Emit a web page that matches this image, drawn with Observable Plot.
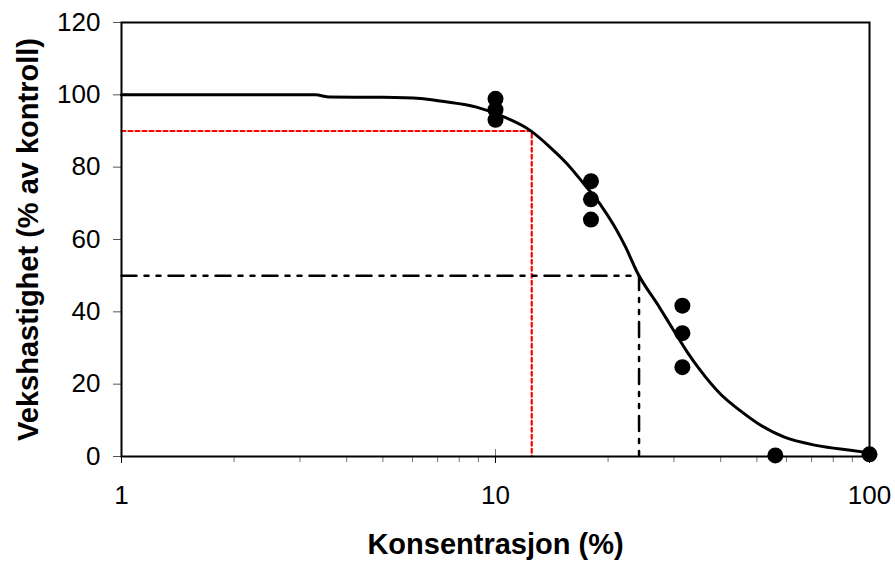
<!DOCTYPE html>
<html>
<head>
<meta charset="utf-8">
<script src="https://cdn.jsdelivr.net/npm/d3@7"></script>
<script src="https://cdn.jsdelivr.net/npm/@observablehq/plot@0.6"></script>
<style>
  html, body { margin: 0; padding: 0; background: #fff; }
  #chart { width: 895px; height: 566px; }
</style>
</head>
<body>
<div id="chart"></div>
<script>
// Fitted dose-response curve
const curveConc = [1, 3.3, 3.6, 5.0, 6.3, 7.2, 8.9, 10.3, 12.4, 14.0, 15.55, 17.2, 19.1, 20.7, 21.6, 22.3, 23.9, 27.3, 29.9, 32.6, 35.3, 40.0, 45.2, 50.2, 59, 72.6, 89, 100];
const curveGrowth = [100, 100, 99.4, 99.3, 99, 98.2, 96.6, 94.3, 90.1, 85.5, 80.9, 75.5, 69.6, 64.0, 60.6, 57.8, 51.0, 41.6, 35.0, 28.8, 23.8, 17.2, 12.6, 9.2, 5.4, 3.0, 1.7, 1.0];

// Observed replicates
const obsConc = [10, 10, 10, 18, 18, 18, 31.6, 31.6, 31.6, 56, 100];
const obsGrowth = [98.9, 95.9, 93.1, 76.1, 71.1, 65.5, 41.7, 34.1, 24.7, 0.3, 0.6];

// Effect concentrations (EC10 red, EC50 black)
const ecLevels = [90, 50];
const ecConc = [12.5, 24.2];

// Axis ticks
const xMajorTicks = [1, 10, 100];
const xMinorTicks = [2, 3, 4, 5, 6, 7, 8, 9, 20, 30, 40, 50, 60, 70, 80, 90];
const yTicks = [0, 20, 40, 60, 80, 100, 120];
const xTitle = "Konsentrasjon (%)";
const yTitle = "Vekshastighet (% av kontroll)";

const xDomain = [1, 100];
const yDomain = [0, 120];

const curve = curveConc.map((c, i) => ({x: c, y: curveGrowth[i]}));
const obs = obsConc.map((c, i) => ({x: c, y: obsGrowth[i]}));
const ecPath = (k) => [
  {x: xDomain[0], y: ecLevels[k]},
  {x: ecConc[k], y: ecLevels[k]},
  {x: ecConc[k], y: yDomain[0]}
];

const chart = Plot.plot({
  width: 895,
  height: 566,
  marginLeft: 121,
  marginRight: 26,
  marginTop: 22,
  marginBottom: 110,
  style: {fontFamily: "'Liberation Sans', Arial, sans-serif", fontSize: "26px", background: "#fff", color: "#000", overflow: "visible"},
  x: {type: "log", domain: xDomain, label: null},
  y: {domain: yDomain, label: null},
  marks: [
    Plot.axisY({ticks: yTicks, tickSize: 8, tickPadding: 13, stroke: "#555", fill: "#000", fontSize: 26, label: null}),
    Plot.axisX({ticks: xMinorTicks, tickSize: 6, stroke: "#777", tickFormat: () => "", label: null}),
    Plot.axisX({ticks: xMajorTicks, tickSize: -7, stroke: "#777", tickFormat: () => "", label: null}),
    Plot.axisX({ticks: xMajorTicks, tickSize: 7, tickPadding: 22, stroke: "#000", fill: "#000", fontSize: 26, tickFormat: d => String(d), label: null}),
    Plot.line(ecPath(0), {x: "x", y: "y", stroke: "#ff0000", strokeWidth: 2.2, strokeDasharray: "4,3"}),
    Plot.line(ecPath(1), {x: "x", y: "y", stroke: "#000", strokeWidth: 2.5, strokeDasharray: "15,8,4,8,4,8"}),
    Plot.line(curve, {x: "x", y: "y", stroke: "#000", strokeWidth: 3, curve: "monotone-x"}),
    Plot.dot(obs, {x: "x", y: "y", r: 8, fill: "#000", stroke: "none"}),
    Plot.frame({stroke: "#000", strokeWidth: 2}),
    Plot.text([xTitle], {frameAnchor: "bottom", lineAnchor: "middle", textAnchor: "middle", dy: 88, fontSize: 29, fontWeight: "bold", fill: "#000"}),
    Plot.text([yTitle], {frameAnchor: "left", lineAnchor: "middle", textAnchor: "middle", dx: -93, rotate: -90, fontSize: 29, fontWeight: "bold", fill: "#000"})
  ]
});
document.getElementById("chart").appendChild(chart);
</script>
</body>
</html>
